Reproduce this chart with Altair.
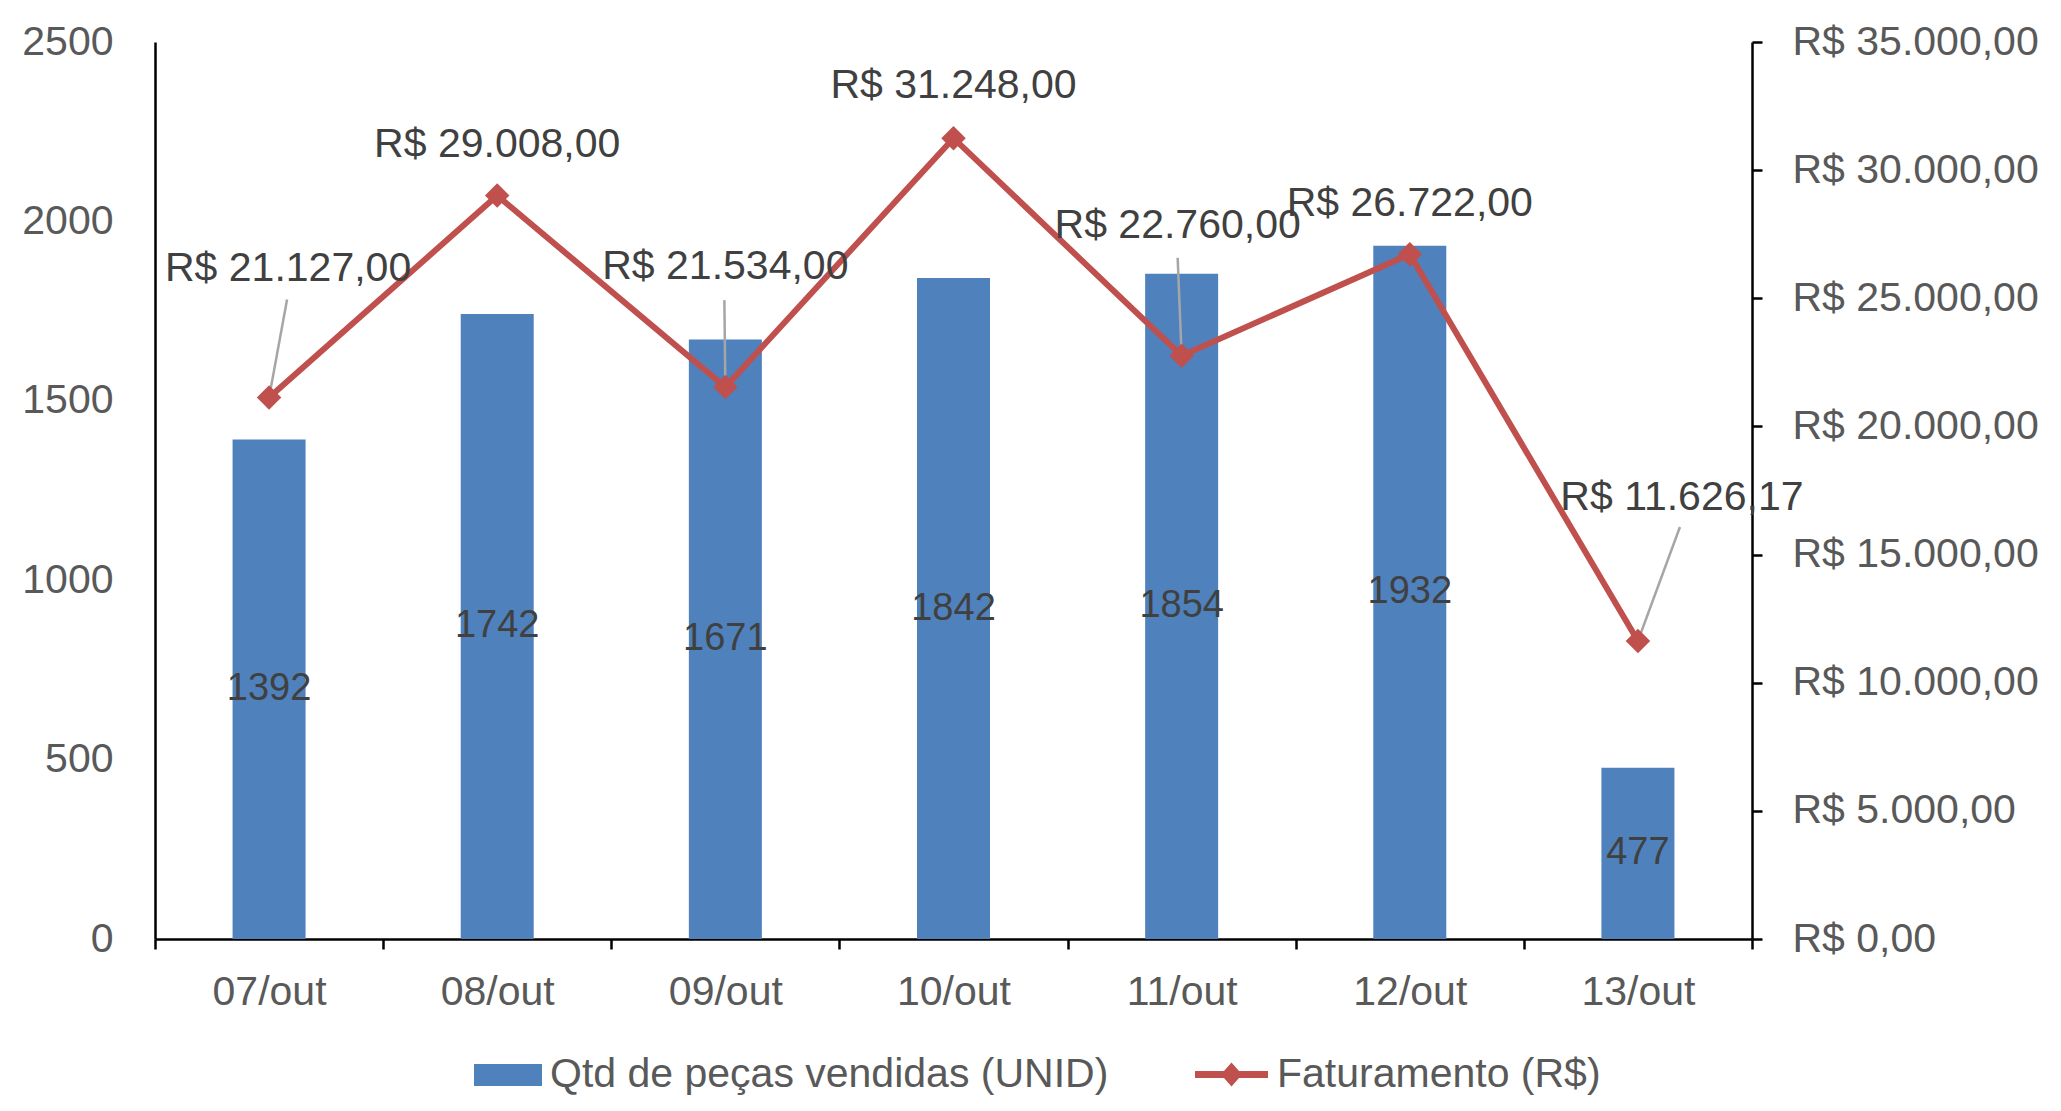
import altair as alt
import pandas as pd

# ---- data ----
dias = ["07/out", "08/out", "09/out", "10/out", "11/out", "12/out", "13/out"]
qtd = [1392, 1742, 1671, 1842, 1854, 1932, 477]
fat = [21127.00, 29008.00, 21534.00, 31248.00, 22760.00, 26722.00, 11626.17]
serie_qtd = "Qtd de peças vendidas (UNID)"
serie_fat = "Faturamento (R$)"
left_ticks = [0, 500, 1000, 1500, 2000, 2500]
right_ticks = [0, 5000, 10000, 15000, 20000, 25000, 30000, 35000]


def brl(v):
    s = f"{v:,.2f}".replace(",", "_").replace(".", ",").replace("_", ".")
    return "R$ " + s


df_bar = pd.DataFrame({"dia": dias, "qtd": qtd, "serie": serie_qtd})
df_line = pd.DataFrame({"dia": dias, "fat": fat, "serie": serie_fat,
                        "rotulo": [brl(v) for v in fat]})

# ---- styling ----
FONT = "Liberation Sans"
BLUE = "#4F81BD"
RED = "#C0504D"
AXIS_TXT = "#595959"
DATA_TXT = "#404040"
FS = 41
FW = "normal"

x_enc = alt.X(
    "dia:N", sort=dias,
    scale=alt.Scale(type="band", paddingInner=0, paddingOuter=0),
    axis=alt.Axis(title=None, labelAngle=0, tickBand="extent", grid=False,
                  domainColor="black", domainWidth=2.5, tickColor="black",
                  tickWidth=2.5, tickSize=10, labelFontSize=FS,
                  labelColor=AXIS_TXT, labelFont=FONT, labelFontWeight=FW,
                  labelPadding=23),
)

left_axis = alt.Axis(title=None, values=left_ticks, format="d", ticks=False,
                     tickSize=0, grid=False, domainColor="black",
                     domainWidth=2.5, labelFontSize=FS, labelColor=AXIS_TXT,
                     labelFont=FONT, labelFontWeight=FW, labelPadding=42)
left_scale = alt.Scale(domain=[0, 2500], nice=False)

right_axis = alt.Axis(
    title=None, orient="right", values=right_ticks, grid=False,
    domainColor="black", domainWidth=2.5, tickColor="black", tickWidth=2.5,
    tickSize=10, labelFontSize=FS, labelColor=AXIS_TXT, labelFont=FONT,
    labelFontWeight=FW, labelPadding=30, labelLimit=1000,
    labelExpr="'R$ ' + replace(replace(replace(format(datum.value, ',.2f'), ',', '_'), '.', ','), '_', '.')",
)
right_scale = alt.Scale(domain=[0, 35000], nice=False)

rect_path = "M-1,-0.324H1V0.324H-1Z"
line_path = "M-1,-0.096H1V0.096H-1Z M0,-0.33L0.29,0L0,0.33L-0.29,0Z"

# ---- bars ----
bars = alt.Chart(df_bar).mark_bar(width=alt.RelativeBandSize(0.32)).encode(
    x=x_enc,
    y=alt.Y("qtd:Q", scale=left_scale, axis=left_axis),
    fill=alt.Fill("serie:N",
                  scale=alt.Scale(domain=[serie_qtd], range=[BLUE]),
                  legend=alt.Legend(orient="none", legendX=319, legendY=999,
                                    title=None, symbolType=rect_path,
                                    symbolSize=4624, symbolStrokeWidth=0,
                                    labelFontSize=FS, labelColor=AXIS_TXT,
                                    labelFont=FONT, labelFontWeight=FW,
                                    labelOffset=8, labelLimit=1000, padding=0)),
)

bar_text = alt.Chart(df_bar).transform_calculate(
    meio="datum.qtd / 2"
).mark_text(fontSize=38, color=DATA_TXT, font=FONT, fontWeight=FW,
            baseline="middle", align="center").encode(
    x=x_enc,
    y=alt.Y("meio:Q", scale=left_scale, axis=left_axis),
    text=alt.Text("qtd:Q", format="d"),
)

bar_group = alt.layer(bars, bar_text)

# ---- line ----
y_fat = alt.Y("fat:Q", scale=right_scale, axis=right_axis)

line = alt.Chart(df_line).mark_line(color=RED, strokeWidth=6).encode(
    x=x_enc, y=y_fat,
)

points = alt.Chart(df_line).mark_point(
    filled=True, shape="diamond", size=600, opacity=1, strokeWidth=0
).encode(
    x=x_enc, y=y_fat,
    fill=alt.Fill("serie:N",
                  scale=alt.Scale(domain=[serie_fat], range=[RED]),
                  legend=alt.Legend(orient="none", legendX=1040, legendY=996,
                                    title=None, symbolType=line_path,
                                    symbolSize=5329, symbolStrokeWidth=0,
                                    labelFontSize=FS, labelColor=AXIS_TXT,
                                    labelFont=FONT, labelFontWeight=FW,
                                    labelOffset=9, labelLimit=1000, padding=0)),
)

# label placement (pixel offsets from each point) and leader lines
label_offsets = {
    "07/out": (19, -117), "08/out": (0, -39), "09/out": (0, -108),
    "10/out": (0, -40), "11/out": (-4, -118), "12/out": (0, -38),
    "13/out": (44, -131),
}
leader_offsets = {
    "07/out": (18, -98), "09/out": (-1, -87),
    "11/out": (-4, -98), "13/out": (42, -114),
}

line_layers = [line]
for d, (ldx, ldy) in leader_offsets.items():
    line_layers.append(
        alt.Chart(df_line).transform_filter(alt.datum.dia == d).mark_rule(
            color="#A6A6A6", strokeWidth=2.5, x2Offset=ldx, y2Offset=ldy
        ).encode(x=x_enc, x2="dia:N", y=y_fat, y2="fat:Q")
    )
line_layers.append(points)
for d, (tdx, tdy) in label_offsets.items():
    line_layers.append(
        alt.Chart(df_line).transform_filter(alt.datum.dia == d).mark_text(
            fontSize=FS, color=DATA_TXT, font=FONT, fontWeight=FW,
            align="center", baseline="alphabetic", dx=tdx, dy=tdy
        ).encode(x=x_enc, y=y_fat, text="rotulo:N")
    )

line_group = alt.layer(*line_layers)

chart = alt.layer(bar_group, line_group).resolve_scale(
    y="independent", fill="independent"
).resolve_legend(fill="independent").properties(
    width=1597, height=897,
    autosize=alt.AutoSizeParams(type="none"),
    padding={"left": 147, "top": 34, "right": 300, "bottom": 160},
    background="white",
).configure_view(stroke=None)

chart.save("out.html", embed_options={"renderer": "svg", "actions": False})
